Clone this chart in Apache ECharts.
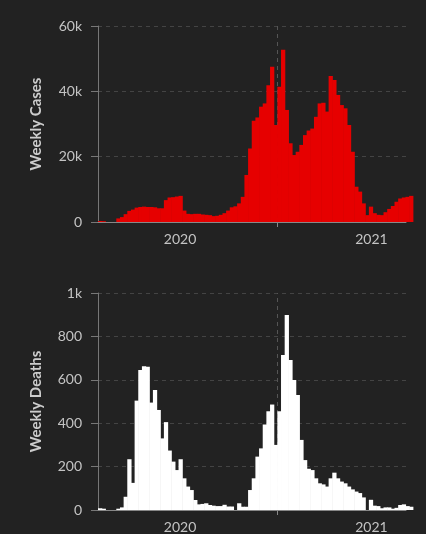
<!DOCTYPE html>
<html>
<head>
<meta charset="utf-8">
<script src="https://cdn.jsdelivr.net/npm/echarts@6/dist/echarts.min.js"></script>
<style>
html,body{margin:0;padding:0;background:#222222;}
#chart{width:426px;height:534px;}
</style>
</head>
<body>
<div id="chart"></div>
<script>
// Week start dates (Sunday) for each weekly bar
const weeks = [
  '2019-07-28','2019-08-04','2019-08-11','2019-08-18','2019-08-25','2019-09-01','2019-09-08','2019-09-15',
  '2019-09-22','2019-09-29','2019-10-06','2019-10-13','2019-10-20','2019-10-27','2019-11-03','2019-11-10',
  '2019-11-17','2019-11-24','2019-12-01','2019-12-08','2019-12-15','2019-12-22','2019-12-29',
  '2020-01-05','2020-01-12','2020-01-19','2020-01-26','2020-02-02','2020-02-09','2020-02-16','2020-02-23',
  '2020-03-01','2020-03-08','2020-03-15','2020-03-22','2020-03-29','2020-04-05','2020-04-12','2020-04-19',
  '2020-04-26','2020-05-03','2020-05-10','2020-05-17','2020-05-24','2020-05-31','2020-06-07','2020-06-14',
  '2020-06-21','2020-06-28','2020-07-05','2020-07-12','2020-07-19','2020-07-26','2020-08-02','2020-08-09',
  '2020-08-16','2020-08-23','2020-08-30','2020-09-06','2020-09-13','2020-09-20','2020-09-27','2020-10-04',
  '2020-10-11','2020-10-18','2020-10-25','2020-11-01','2020-11-08','2020-11-15','2020-11-22','2020-11-29',
  '2020-12-06','2020-12-13','2020-12-20','2020-12-27','2021-01-03','2021-01-10','2021-01-17','2021-01-24',
  '2021-01-31','2021-02-07','2021-02-14','2021-02-21','2021-02-28','2021-03-07','2021-03-14'
];

const weeklyCases = [
  300, 250, 0, 0, 0, 1100, 1500, 2400, 3400, 3800, 4400, 4600, 4700, 4600, 4600, 4500,
  4200, 4200, 6700, 7500, 7600, 7800, 8000, 3500, 2500, 2400, 2500, 2500, 2300, 2200, 2100, 1800,
  1900, 2200, 2700, 3500, 4500, 4800, 5700, 7700, 14400, 22500, 31000, 32000, 35300, 36300, 41900, 47500,
  29700, 41400, 52700, 34300, 24100, 20500, 21500, 23600, 26600, 28000, 28600, 32200, 36300, 36500, 33800, 44700,
  43500, 38900, 35800, 34800, 29700, 21500, 10800, 9300, 5700, 2100, 4700, 2700, 2200, 2100, 3000, 4000,
  4900, 6200, 7200, 7500, 7700, 8000
];

const weeklyDeaths = [
  8, 6, 0, 0, 0, 6, 12, 61, 234, 125, 504, 645, 662, 660, 495, 553,
  461, 330, 405, 274, 223, 184, 234, 146, 108, 92, 46, 26, 28, 31, 23, 20,
  18, 18, 24, 16, 16, 0, 31, 15, 15, 92, 146, 246, 284, 394, 455, 486,
  300, 455, 714, 899, 691, 599, 530, 323, 230, 190, 184, 146, 123, 118, 108, 146,
  172, 146, 131, 123, 108, 95, 85, 78, 58, 0, 47, 20, 18, 8, 12, 12,
  6, 10, 23, 26, 18, 15
];

const yearTicks = ['2020-01-01', '2021-01-01'];
const midMarker = '2020-07-04';
const xRange = ['2019-07-28', '2021-03-08'];

const DAY = 86400000;
function toTs(s) { const p = s.split('-').map(Number); return Date.UTC(p[0], p[1] - 1, p[2]); }
// each bar spans its week: [weekStart, weekEnd, value]
const casesData = weeks.map((w, i) => [toTs(w), toTs(w) + 7 * DAY, weeklyCases[i]]);
const deathsData = weeks.map((w, i) => [toTs(w), toTs(w) + 7 * DAY, weeklyDeaths[i]]);

const FONT = 'Lato';
function fmtY(v) { return v === 0 ? '0' : (v >= 1000 ? (v / 1000) + 'k' : String(v)); }

function xAxisFor(gi) {
  return {
    type: 'value', gridIndex: gi, scale: true, z: 5,
    min: toTs(xRange[0]), max: toTs(xRange[1]),
    axisLine: { show: true, onZero: false, lineStyle: { color: '#888', width: 1 } },
    axisTick: { show: true, customValues: [toTs(midMarker)], length: 5, lineStyle: { color: '#888' } },
    axisLabel: {
      show: true, customValues: yearTicks.map(toTs),
      formatter: v => String(new Date(v).getUTCFullYear()),
      color: '#c4c4c4', fontSize: 14, fontFamily: FONT, margin: 10
    },
    splitLine: { show: false }
  };
}
function yAxisFor(gi, name, max, interval) {
  return {
    type: 'value', gridIndex: gi, name: name, nameLocation: 'middle', nameGap: 54,
    nameTextStyle: { color: '#cccccc', fontSize: 15, fontWeight: 'bold', fontFamily: FONT },
    min: 0, max: max, interval: interval,
    axisLine: { show: true, lineStyle: { color: '#777' } },
    axisTick: { show: true, length: 7, lineStyle: { color: '#777' } },
    axisLabel: { color: '#c4c4c4', fontSize: 14, fontFamily: FONT, margin: 16, formatter: fmtY },
    splitLine: { show: true, lineStyle: { color: '#444', type: [4, 4], width: 1 } }
  };
}
function markerLine() {
  return {
    silent: true, symbol: 'none', z: 1, animation: false,
    label: { show: false },
    lineStyle: { color: '#555', type: [4, 4], width: 1 },
    data: [{ xAxis: toTs(midMarker) }]
  };
}
function barSeries(ai, data, color) {
  return {
    type: 'custom', xAxisIndex: ai, yAxisIndex: ai, data: data, clip: false, z: 2,
    encode: { x: [0, 1], y: 2 },
    renderItem: function (params, api) {
      const top = api.coord([api.value(0), api.value(2)]);
      const base = api.coord([api.value(1), 0]);
      const h = base[1] - top[1];
      if (h <= 0) return null;
      return {
        type: 'rect',
        shape: { x: top[0], y: top[1], width: base[0] - top[0] + 0.6, height: h },
        style: { fill: color }
      };
    },
    markLine: markerLine()
  };
}

const chart = echarts.init(document.getElementById('chart'), null, { renderer: 'canvas' });
chart.setOption({
  backgroundColor: '#222222',
  animation: false,
  grid: [
    { left: 98, right: 20, top: 26, height: 196 },
    { left: 98, right: 20, top: 293, height: 217 }
  ],
  xAxis: [xAxisFor(0), xAxisFor(1)],
  yAxis: [yAxisFor(0, 'Weekly Cases', 60000, 20000), yAxisFor(1, 'Weekly Deaths', 1000, 200)],
  series: [
    barSeries(0, casesData, '#e60000'),
    barSeries(1, deathsData, '#ffffff')
  ]
});
</script>
</body>
</html>
